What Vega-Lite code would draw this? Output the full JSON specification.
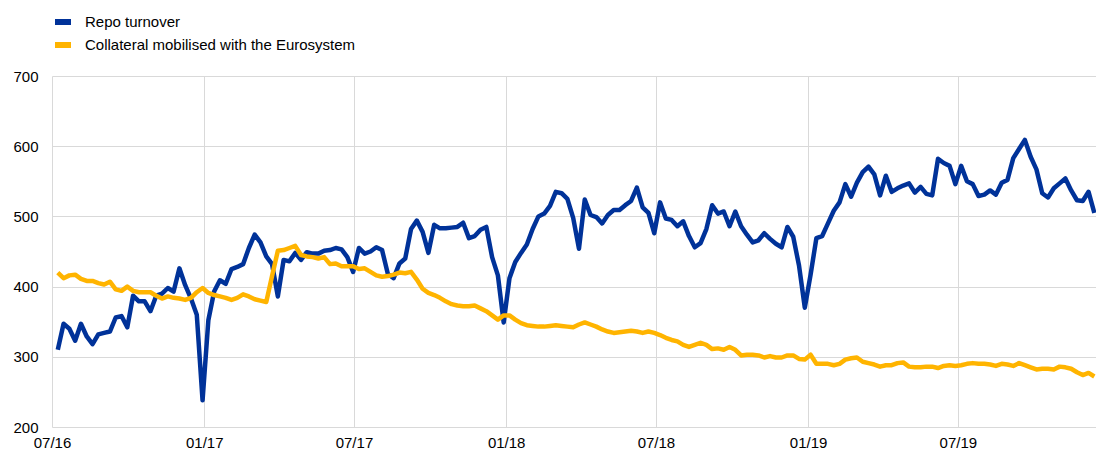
{
  "$schema": "https://vega.github.io/schema/vega-lite/v6.json",
  "width": 1044,
  "height": 351,
  "autosize": {"type": "none"},
  "padding": {"left": 52, "top": 76, "right": 0, "bottom": 25},
  "background": "white",
  "config": {
    "view": {"stroke": null},
    "font": "Liberation Sans",
    "axis": {"labelFont": "Liberation Sans", "labelFontSize": 15, "labelColor": "#000000", "gridColor": "#d9d9d9", "gridWidth": 1, "ticks": false, "domain": false, "title": null}
  },
  "data": {
    "values": [
      {"date":"2016-07-08","repo":310,"collateral":420},
      {"date":"2016-07-15","repo":347,"collateral":412},
      {"date":"2016-07-22","repo":340,"collateral":416},
      {"date":"2016-07-29","repo":323,"collateral":417},
      {"date":"2016-08-05","repo":347,"collateral":411},
      {"date":"2016-08-12","repo":329,"collateral":408},
      {"date":"2016-08-19","repo":318,"collateral":408},
      {"date":"2016-08-26","repo":332,"collateral":405},
      {"date":"2016-09-02","repo":334,"collateral":403},
      {"date":"2016-09-09","repo":336,"collateral":407},
      {"date":"2016-09-16","repo":356,"collateral":396},
      {"date":"2016-09-23","repo":358,"collateral":394},
      {"date":"2016-09-30","repo":342,"collateral":400},
      {"date":"2016-10-07","repo":387,"collateral":394},
      {"date":"2016-10-14","repo":379,"collateral":392},
      {"date":"2016-10-21","repo":379,"collateral":392},
      {"date":"2016-10-28","repo":365,"collateral":392},
      {"date":"2016-11-04","repo":387,"collateral":387},
      {"date":"2016-11-11","repo":390,"collateral":383},
      {"date":"2016-11-18","repo":398,"collateral":386},
      {"date":"2016-11-25","repo":393,"collateral":384},
      {"date":"2016-12-02","repo":426,"collateral":383},
      {"date":"2016-12-09","repo":402,"collateral":381},
      {"date":"2016-12-16","repo":383,"collateral":384},
      {"date":"2016-12-23","repo":360,"collateral":392},
      {"date":"2016-12-30","repo":238,"collateral":398},
      {"date":"2017-01-06","repo":352,"collateral":391},
      {"date":"2017-01-13","repo":393,"collateral":388},
      {"date":"2017-01-20","repo":409,"collateral":386},
      {"date":"2017-01-27","repo":404,"collateral":384},
      {"date":"2017-02-03","repo":425,"collateral":381},
      {"date":"2017-02-10","repo":428,"collateral":384},
      {"date":"2017-02-17","repo":432,"collateral":389},
      {"date":"2017-02-24","repo":455,"collateral":386},
      {"date":"2017-03-03","repo":474,"collateral":382},
      {"date":"2017-03-10","repo":463,"collateral":380},
      {"date":"2017-03-17","repo":443,"collateral":378},
      {"date":"2017-03-24","repo":432,"collateral":415},
      {"date":"2017-03-31","repo":386,"collateral":451},
      {"date":"2017-04-07","repo":438,"collateral":452},
      {"date":"2017-04-14","repo":436,"collateral":455},
      {"date":"2017-04-21","repo":448,"collateral":458},
      {"date":"2017-04-28","repo":438,"collateral":445},
      {"date":"2017-05-05","repo":449,"collateral":443},
      {"date":"2017-05-12","repo":447,"collateral":442},
      {"date":"2017-05-19","repo":447,"collateral":440},
      {"date":"2017-05-26","repo":451,"collateral":442},
      {"date":"2017-06-02","repo":452,"collateral":432},
      {"date":"2017-06-09","repo":455,"collateral":433},
      {"date":"2017-06-16","repo":453,"collateral":429},
      {"date":"2017-06-23","repo":442,"collateral":429},
      {"date":"2017-06-30","repo":421,"collateral":429},
      {"date":"2017-07-07","repo":455,"collateral":425},
      {"date":"2017-07-14","repo":447,"collateral":426},
      {"date":"2017-07-21","repo":450,"collateral":421},
      {"date":"2017-07-28","repo":456,"collateral":416},
      {"date":"2017-08-04","repo":452,"collateral":414},
      {"date":"2017-08-11","repo":418,"collateral":415},
      {"date":"2017-08-18","repo":412,"collateral":417},
      {"date":"2017-08-25","repo":433,"collateral":420},
      {"date":"2017-09-01","repo":440,"collateral":419},
      {"date":"2017-09-08","repo":482,"collateral":421},
      {"date":"2017-09-15","repo":494,"collateral":410},
      {"date":"2017-09-22","repo":478,"collateral":397},
      {"date":"2017-09-29","repo":448,"collateral":391},
      {"date":"2017-10-06","repo":488,"collateral":388},
      {"date":"2017-10-13","repo":483,"collateral":384},
      {"date":"2017-10-20","repo":483,"collateral":379},
      {"date":"2017-10-27","repo":484,"collateral":375},
      {"date":"2017-11-03","repo":485,"collateral":373},
      {"date":"2017-11-10","repo":491,"collateral":372},
      {"date":"2017-11-17","repo":469,"collateral":372},
      {"date":"2017-11-24","repo":472,"collateral":373},
      {"date":"2017-12-01","repo":481,"collateral":369},
      {"date":"2017-12-08","repo":485,"collateral":365},
      {"date":"2017-12-15","repo":442,"collateral":359},
      {"date":"2017-12-22","repo":416,"collateral":353},
      {"date":"2017-12-29","repo":349,"collateral":359},
      {"date":"2018-01-05","repo":412,"collateral":359},
      {"date":"2018-01-12","repo":435,"collateral":353},
      {"date":"2018-01-19","repo":448,"collateral":348},
      {"date":"2018-01-26","repo":460,"collateral":345},
      {"date":"2018-02-02","repo":482,"collateral":344},
      {"date":"2018-02-09","repo":500,"collateral":343},
      {"date":"2018-02-16","repo":504,"collateral":343},
      {"date":"2018-02-23","repo":515,"collateral":344},
      {"date":"2018-03-02","repo":535,"collateral":345},
      {"date":"2018-03-09","repo":533,"collateral":344},
      {"date":"2018-03-16","repo":525,"collateral":343},
      {"date":"2018-03-23","repo":498,"collateral":342},
      {"date":"2018-03-30","repo":454,"collateral":346},
      {"date":"2018-04-06","repo":524,"collateral":349},
      {"date":"2018-04-13","repo":502,"collateral":346},
      {"date":"2018-04-20","repo":499,"collateral":343},
      {"date":"2018-04-27","repo":490,"collateral":339},
      {"date":"2018-05-04","repo":502,"collateral":336},
      {"date":"2018-05-11","repo":509,"collateral":334},
      {"date":"2018-05-18","repo":509,"collateral":335},
      {"date":"2018-05-25","repo":516,"collateral":336},
      {"date":"2018-06-01","repo":522,"collateral":337},
      {"date":"2018-06-08","repo":541,"collateral":336},
      {"date":"2018-06-15","repo":513,"collateral":334},
      {"date":"2018-06-22","repo":505,"collateral":336},
      {"date":"2018-06-29","repo":476,"collateral":334},
      {"date":"2018-07-06","repo":520,"collateral":331},
      {"date":"2018-07-13","repo":497,"collateral":327},
      {"date":"2018-07-20","repo":495,"collateral":324},
      {"date":"2018-07-27","repo":486,"collateral":322},
      {"date":"2018-08-03","repo":493,"collateral":317},
      {"date":"2018-08-10","repo":472,"collateral":314},
      {"date":"2018-08-17","repo":456,"collateral":317},
      {"date":"2018-08-24","repo":462,"collateral":320},
      {"date":"2018-08-31","repo":482,"collateral":317},
      {"date":"2018-09-07","repo":516,"collateral":311},
      {"date":"2018-09-14","repo":504,"collateral":312},
      {"date":"2018-09-21","repo":507,"collateral":310},
      {"date":"2018-09-28","repo":486,"collateral":314},
      {"date":"2018-10-05","repo":507,"collateral":310},
      {"date":"2018-10-12","repo":486,"collateral":302},
      {"date":"2018-10-19","repo":474,"collateral":303},
      {"date":"2018-10-26","repo":463,"collateral":303},
      {"date":"2018-11-02","repo":466,"collateral":302},
      {"date":"2018-11-09","repo":476,"collateral":299},
      {"date":"2018-11-16","repo":468,"collateral":301},
      {"date":"2018-11-23","repo":461,"collateral":299},
      {"date":"2018-11-30","repo":456,"collateral":299},
      {"date":"2018-12-07","repo":485,"collateral":302},
      {"date":"2018-12-14","repo":471,"collateral":302},
      {"date":"2018-12-21","repo":430,"collateral":297},
      {"date":"2018-12-28","repo":370,"collateral":296},
      {"date":"2019-01-04","repo":417,"collateral":303},
      {"date":"2019-01-11","repo":469,"collateral":290},
      {"date":"2019-01-18","repo":472,"collateral":290},
      {"date":"2019-01-25","repo":490,"collateral":290},
      {"date":"2019-02-01","repo":508,"collateral":288},
      {"date":"2019-02-08","repo":520,"collateral":290},
      {"date":"2019-02-15","repo":546,"collateral":296},
      {"date":"2019-02-22","repo":528,"collateral":298},
      {"date":"2019-03-01","repo":548,"collateral":299},
      {"date":"2019-03-08","repo":563,"collateral":293},
      {"date":"2019-03-15","repo":571,"collateral":291},
      {"date":"2019-03-22","repo":560,"collateral":289},
      {"date":"2019-03-29","repo":530,"collateral":286},
      {"date":"2019-04-05","repo":558,"collateral":288},
      {"date":"2019-04-12","repo":535,"collateral":288},
      {"date":"2019-04-19","repo":540,"collateral":291},
      {"date":"2019-04-26","repo":544,"collateral":292},
      {"date":"2019-05-03","repo":547,"collateral":286},
      {"date":"2019-05-10","repo":534,"collateral":285},
      {"date":"2019-05-17","repo":542,"collateral":285},
      {"date":"2019-05-24","repo":532,"collateral":286},
      {"date":"2019-05-31","repo":530,"collateral":286},
      {"date":"2019-06-07","repo":582,"collateral":284},
      {"date":"2019-06-14","repo":576,"collateral":287},
      {"date":"2019-06-21","repo":572,"collateral":288},
      {"date":"2019-06-28","repo":546,"collateral":287},
      {"date":"2019-07-05","repo":572,"collateral":288},
      {"date":"2019-07-12","repo":550,"collateral":290},
      {"date":"2019-07-19","repo":546,"collateral":291},
      {"date":"2019-07-26","repo":529,"collateral":290},
      {"date":"2019-08-02","repo":531,"collateral":290},
      {"date":"2019-08-09","repo":537,"collateral":289},
      {"date":"2019-08-16","repo":531,"collateral":287},
      {"date":"2019-08-23","repo":548,"collateral":290},
      {"date":"2019-08-30","repo":552,"collateral":289},
      {"date":"2019-09-06","repo":583,"collateral":287},
      {"date":"2019-09-13","repo":596,"collateral":291},
      {"date":"2019-09-20","repo":609,"collateral":288},
      {"date":"2019-09-27","repo":585,"collateral":285},
      {"date":"2019-10-04","repo":567,"collateral":282},
      {"date":"2019-10-11","repo":533,"collateral":283},
      {"date":"2019-10-18","repo":527,"collateral":283},
      {"date":"2019-10-25","repo":540,"collateral":282},
      {"date":"2019-11-01","repo":547,"collateral":286},
      {"date":"2019-11-08","repo":554,"collateral":285},
      {"date":"2019-11-15","repo":537,"collateral":283},
      {"date":"2019-11-22","repo":523,"collateral":278},
      {"date":"2019-11-29","repo":522,"collateral":274},
      {"date":"2019-12-06","repo":535,"collateral":277},
      {"date":"2019-12-13","repo":505,"collateral":272}
    ]
  },
  "transform": [{"fold": ["repo", "collateral"], "as": ["series", "value"]}],
  "mark": {"type": "line", "strokeWidth": 4.5, "strokeJoin": "round", "strokeCap": "butt", "clip": true},
  "encoding": {
    "x": {
      "field": "date",
      "type": "temporal",
      "scale": {"type": "utc", "domain": [{"year": 2016, "month": 7, "date": 1, "utc": true}, {"year": 2019, "month": 12, "date": 15, "utc": true}]},
      "axis": {
        "labelExpr": "utcFormat(datum.value, '%m/%y')",
        "labelPadding": 8,
        "labelFlush": false,
        "grid": true,
        "values": [
          {"year": 2016, "month": 7, "date": 1, "utc": true},
          {"year": 2017, "month": 1, "date": 1, "utc": true},
          {"year": 2017, "month": 7, "date": 1, "utc": true},
          {"year": 2018, "month": 1, "date": 1, "utc": true},
          {"year": 2018, "month": 7, "date": 1, "utc": true},
          {"year": 2019, "month": 1, "date": 1, "utc": true},
          {"year": 2019, "month": 7, "date": 1, "utc": true}
        ]
      }
    },
    "y": {
      "field": "value",
      "type": "quantitative",
      "scale": {"domain": [200, 700], "nice": false, "zero": false},
      "axis": {"values": [200, 300, 400, 500, 600, 700], "labelPadding": 14, "grid": true}
    },
    "color": {
      "field": "series",
      "type": "nominal",
      "sort": ["repo", "collateral"],
      "scale": {"domain": ["repo", "collateral"], "range": ["#003299", "#ffb400"]},
      "legend": {
        "orient": "none",
        "legendX": 0,
        "legendY": -65,
        "direction": "vertical",
        "title": null,
        "padding": 0,
        "symbolType": "stroke",
        "symbolSize": 256,
        "symbolStrokeWidth": 6,
        "symbolOpacity": 1,
        "labelFont": "Liberation Sans",
        "labelFontSize": 15,
        "labelColor": "#000000",
        "labelOffset": 11,
        "labelLimit": 500,
        "rowPadding": -2,
        "labelExpr": "datum.value == 'repo' ? 'Repo turnover' : 'Collateral mobilised with the Eurosystem'"
      }
    }
  }
}
